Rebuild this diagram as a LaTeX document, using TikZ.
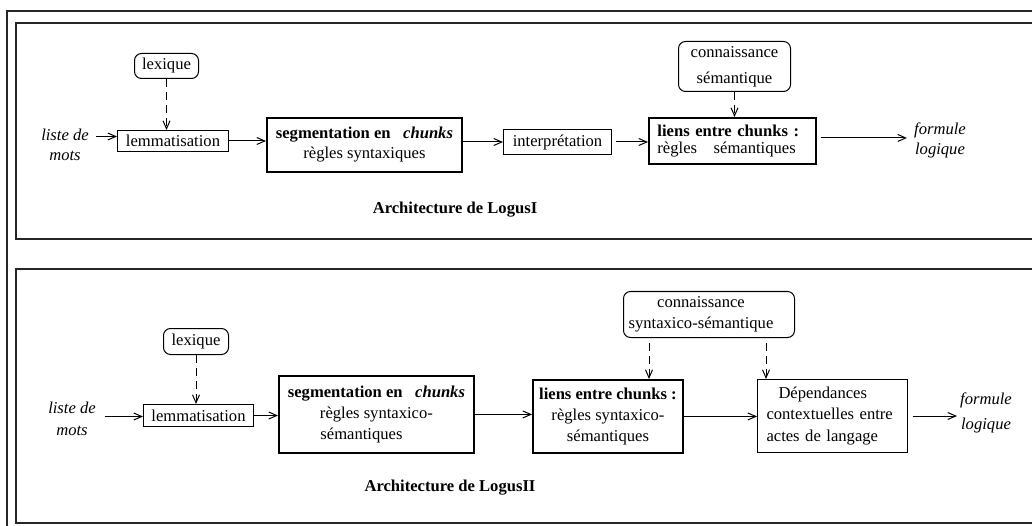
\documentclass[tikz,border=0pt]{standalone}
\usepackage{fontspec}
\setmainfont{Liberation Serif}
\usetikzlibrary{arrows.meta}

\begin{document}
\begin{tikzpicture}[x=1pt,y=-1pt,
  every node/.style={font=\fontsize{16.6}{20}\selectfont, inner sep=0pt},
  box/.style={draw, line width=1pt, anchor=north west},
  thickbox/.style={box, line width=1.9pt},
  roundbox/.style={box, rounded corners=7pt},
  flow/.style={line width=1pt, -{Straight Barb[length=8pt,width=7pt]}},
  link/.style={flow, dash pattern=on 8pt off 5pt},
  frame/.style={line width=1.2pt, draw=black!85},
  plain/.style={align=center},
]
\useasboundingbox (0,0) rectangle (1032,526);
\clip (0,0) rectangle (1032,526);

% frames
\draw[frame] (7,600) -- (7,11) -- (1100,11);
\draw[frame] (16,23) rectangle (1100,239);
\draw[frame] (16,269) rectangle (1100,523);

% ---------- LogusI ----------
\node[roundbox, minimum width=64, minimum height=25] (lex1) at (134,53) {lexique};
\node[box, minimum width=111, minimum height=21] (lem1) at (117,130) {lemmatisation};
\node[thickbox, minimum width=195, minimum height=54, align=center] (seg1) at (266,117)
  {\textbf{segmentation en\ \ \ \textit{chunks}}\\règles syntaxiques};
\node[box, minimum width=108, minimum height=25] (int1) at (503,129) {interprétation};
\node[thickbox, minimum width=167, minimum height=46, text width=150, align=left,
  font=\fontsize{16.6}{17}\selectfont] (lie1) at (648,117)
  {\textbf{liens entre chunks :}\\règles\ \ \ sémantiques};
\node[roundbox, minimum width=112, minimum height=50, align=center,
  font=\fontsize{16.6}{26}\selectfont] (con1) at (678,41) {connaissance\\sémantique};
\node[plain, font=\fontsize{16.6}{20}\itshape] (liste1) at (65,145) {liste de\\mots};
\node[plain, font=\fontsize{16.6}{20}\itshape, inner xsep=7pt] (form1) at (940,140) {formule\\logique};
\node[font=\fontsize{16.6}{20}\bfseries] (title1) at (455,210) {Architecture de LogusI};

\draw[link] (lex1.south) -- (lex1.south |- lem1.north);
\draw[flow] ([xshift=-21pt,yshift=4.5pt]lem1.west) -- ([yshift=4.5pt]lem1.west);
\draw[flow] (lem1.east) -- (seg1.west |- lem1.east);
\draw[flow] (seg1.east |- int1.west) -- (int1.west);
\coordinate (i1) at ([xshift=4pt]int1.east);
\draw[flow] (i1) -- (i1 -| lie1.west);
\draw[link] (con1.south) -- (con1.south |- lie1.north);
\coordinate (e1) at ([xshift=4pt,yshift=3pt]lie1.east);
\draw[flow] (e1) -- (e1 -| form1.west);

% ---------- LogusII ----------
\node[roundbox, minimum width=65, minimum height=26] (lex2) at (163,328) {lexique};
\node[box, minimum width=110, minimum height=22] (lem2) at (143,404) {lemmatisation};
\node[thickbox, minimum width=195, minimum height=77, align=center,
  font=\fontsize{16.6}{21}\selectfont] (seg2) at (278,375)
  {\textbf{segmentation en\ \ \ \textit{chunks}}\\règles syntaxico-\hspace*{26pt}\\sémantiques\hspace*{30pt}};
\node[thickbox, minimum width=150, minimum height=73, align=center,
  font=\fontsize{16.6}{21}\selectfont] (lie2) at (532,379)
  {\textbf{liens entre chunks :}\\règles syntaxico-\\sémantiques};
\node[box, minimum width=150, minimum height=73, text width=132, align=left,
  font=\fontsize{16.6}{21.5}\selectfont] (dep2) at (757,379)
  {\hspace*{12pt}Dépendances\\contextuelles entre\\actes de langage};
\node[roundbox, minimum width=171, minimum height=46, align=center,
  font=\fontsize{16.6}{21}\selectfont] (con2) at (623,291)
  {connaissance\hspace*{16pt}\\syntaxico-sémantique\hspace*{16pt}};
\node[plain, font=\fontsize{16.6}{22}\itshape] (liste2) at (72,419) {liste de\\mots};
\node[plain, font=\fontsize{16.6}{25}\itshape, inner xsep=3pt] (form2) at (986,412.5) {formule\\logique};
\node[font=\fontsize{16.6}{20}\bfseries] (title2) at (450,488) {Architecture de LogusII};

\draw[link] (lex2.south) -- (lex2.south |- lem2.north);
\draw[flow] ([xshift=-38pt,yshift=-1pt]lem2.west) -- ([yshift=-1pt]lem2.west);
\draw[flow] (lem2.east) -- (seg2.west |- lem2.east);
\draw[flow] (seg2.east) -- (seg2.east -| lie2.west);
\draw[flow] (lie2.east) -- (dep2.west |- lie2.east);
\coordinate (d1) at ([xshift=26pt,yshift=-5pt]con2.south west);
\draw[link] (d1) -- (d1 |- lie2.north);
\coordinate (d2) at ([xshift=-29pt,yshift=-5pt]con2.south east);
\draw[link] (d2) -- (d2 |- dep2.north);
\coordinate (e2) at ([xshift=5pt]dep2.east);
\draw[flow] (e2) -- (e2 -| form2.west);
\end{tikzpicture}
\end{document}
